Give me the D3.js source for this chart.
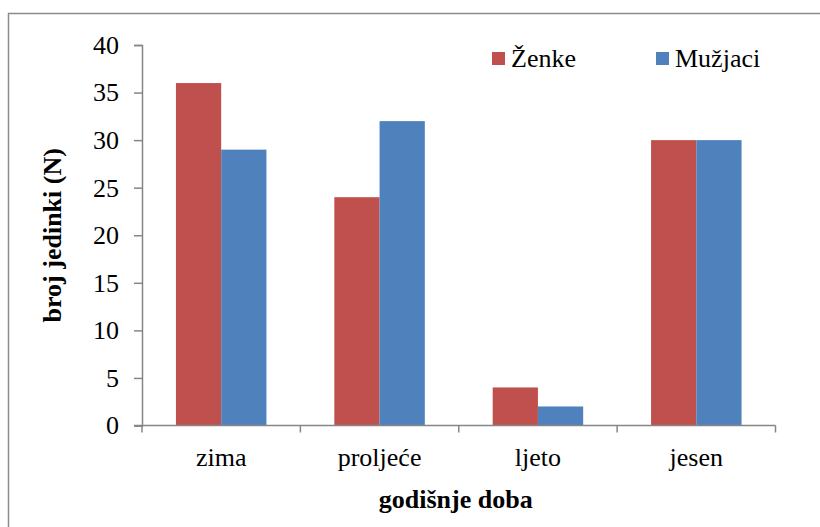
<!DOCTYPE html>
<html>
<head>
<meta charset="utf-8">
<script src="https://cdn.jsdelivr.net/npm/d3@7"></script>
<style>
  html, body { margin: 0; padding: 0; background: #fff; }
  svg { display: block; }
</style>
</head>
<body>
<svg id="chart" width="820" height="527"></svg>
<script>
const categories = ["zima", "proljeće", "ljeto", "jesen"];
const seriesNames = ["Ženke", "Mužjaci"];
const zenke = [36, 24, 4, 30];
const muzjaci = [29, 32, 2, 30];
const yTicks = [0, 5, 10, 15, 20, 25, 30, 35, 40];
const colors = ["#C0504D", "#4F81BD"];

const FONT = "Liberation Serif";
const svg = d3.select("#chart");
const W = 820, H = 527;
const plot = { left: 142, right: 775.5, top: 45, bottom: 425.5 };

// outer border
svg.append("rect")
  .attr("x", 8.5).attr("y", 13.5)
  .attr("width", W + 20).attr("height", H + 20)
  .attr("fill", "none").attr("stroke", "#8c8c8c").attr("stroke-width", 1.5);

const x0 = d3.scaleBand().domain(categories).range([plot.left, plot.right]).paddingInner(0).paddingOuter(0);
const bw = x0.bandwidth();
// Excel gap width 150%: each bar = band / (2 + 1.5)
const x1 = d3.scaleBand().domain(seriesNames)
  .range([bw * 0.75 / 3.5, bw - bw * 0.75 / 3.5]).padding(0);
const y = d3.scaleLinear().domain([0, 40]).range([plot.bottom, plot.top]);

const data = categories.map((c, i) => ({ cat: c, vals: [zenke[i], muzjaci[i]] }));

const g = svg.append("g");
data.forEach(d => {
  d.vals.forEach((v, j) => {
    g.append("rect")
      .attr("x", x0(d.cat) + x1(seriesNames[j]))
      .attr("y", y(v))
      .attr("width", x1.bandwidth())
      .attr("height", y(0) - y(v))
      .attr("fill", colors[j]);
  });
});

const axisColor = "#868686";
// y axis
const yAxis = svg.append("g").attr("transform", `translate(${plot.left},0)`)
  .call(d3.axisLeft(y).tickValues(yTicks).tickSize(8).tickPadding(15));
yAxis.select(".domain").attr("stroke", axisColor).attr("stroke-width", 1.5);
yAxis.selectAll(".tick line").attr("stroke", axisColor).attr("stroke-width", 1.5);
yAxis.selectAll(".tick text").style("font-family", FONT).style("font-size", "26px").attr("fill", "#000");

// x axis
const xAxisG = svg.append("g").attr("transform", `translate(0,${plot.bottom})`);
const xAxis = d3.axisBottom(x0).tickSize(0).tickPadding(0);
xAxisG.call(xAxis);
xAxisG.select(".domain").remove();
xAxisG.append("line").attr("x1", plot.left - 8).attr("x2", plot.right)
  .attr("y1", 0).attr("y2", 0).attr("stroke", axisColor).attr("stroke-width", 1.5);
const boundaries = categories.map(c => x0(c)).concat([x0(categories[categories.length - 1]) + bw]);
xAxisG.selectAll(".bnd").data(boundaries).enter().append("line")
  .attr("x1", d => d).attr("x2", d => d).attr("y1", 0).attr("y2", 7)
  .attr("stroke", axisColor).attr("stroke-width", 1.5);
xAxisG.selectAll(".tick text").style("font-family", FONT).style("font-size", "26px")
  .attr("fill", "#000").attr("dy", null).attr("y", 40);

// axis titles
svg.append("text").attr("x", (plot.left + plot.right) / 2 - 3).attr("y", 508)
  .attr("text-anchor", "middle").style("font-family", FONT).style("font-size", "26px").style("font-weight", "bold")
  .text("godišnje doba");
svg.append("text").attr("transform", `translate(61,${(plot.top + plot.bottom) / 2}) rotate(-90)`)
  .attr("text-anchor", "middle").style("font-family", FONT).style("font-size", "26px").style("font-weight", "bold")
  .text("broj jedinki (N)");

// legend
const legendX = [492, 656];
seriesNames.forEach((s, i) => {
  svg.append("rect").attr("x", legendX[i]).attr("y", 52).attr("width", 13).attr("height", 13)
    .attr("fill", colors[i]);
  svg.append("text").attr("x", legendX[i] + 19).attr("y", 67)
    .style("font-family", FONT).style("font-size", "26px").text(s);
});
</script>
</body>
</html>
